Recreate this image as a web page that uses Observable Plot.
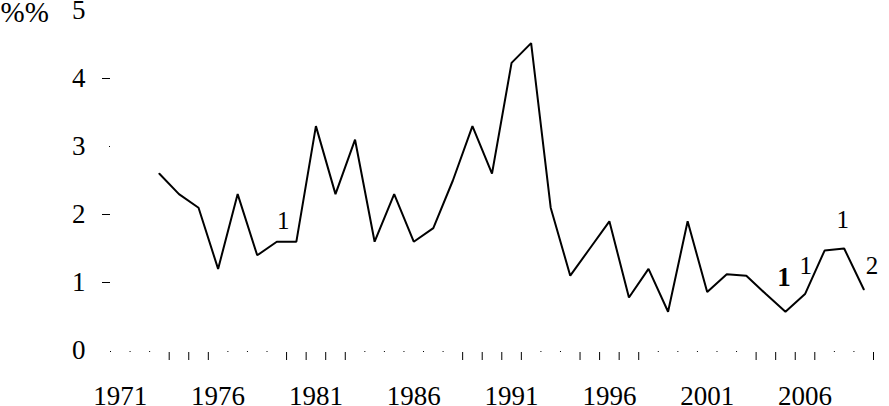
<!DOCTYPE html>
<html><head><meta charset="utf-8">
<script src="https://cdn.jsdelivr.net/npm/d3@7"></script>
<script src="https://cdn.jsdelivr.net/npm/@observablehq/plot@0.6"></script>
<style>body{margin:0;background:#fff}</style>
</head><body><div id="chart"></div>
<script>
const years = [1973,1974,1975,1976,1977,1978,1979,1980,1981,1982,1983,1984,1985,1986,1987,1988,1989,1990,1991,1992,1993,1994,1995,1996,1997,1998,1999,2000,2001,2002,2003,2004,2005,2006,2007,2008,2009];
const values = [2.6,2.3,2.1,1.2,2.3,1.4,1.6,1.6,3.3,2.3,3.1,1.6,2.3,1.6,1.8,2.5,3.3,2.6,4.23,4.52,2.1,1.1,1.5,1.9,0.78,1.2,0.57,1.9,0.86,1.12,1.1,0.83,0.57,0.83,1.47,1.5,0.9];

const xTickLabels = [1971,1976,1981,1986,1991,1996,2001,2006];
const xLongTicks = [1973.5,1974.5,1975.5,1979.5,1980.5,1981.5,1982.5,1988.5,1989.5,1990.5,1991.5,1994.5,1995.5,1996.5,1997.5,2003.5,2004.5,2005.5,2006.5,2009.5];
const xDotTicks = [1970.5,1971.5,1972.5,1976.5,1977.5,1978.5,1983.5,1984.5,1985.5,1986.5,1987.5,1992.5,1993.5,1998.5,1999.5,2000.5,2001.5,2002.5,2007.5,2008.5];
const yTickLabels = [0,1,2,3,4,5];
const yLongTicks = [1,2,4];
const yDotTicks = [3];
const unitLabel = "%%";

const noteYears = [1979.33, 2006.04, 2007.93, 2009.42];
const noteValues = [1.91, 1.24, 1.92, 1.24];
const noteTexts = ["1", "1", "1", "2"];
const boldNoteYear = [2004.92];
const boldNoteValue = [1.08];
const boldNoteText = ["1"];

const data = years.map((y, i) => ({year: y, value: values[i]}));
const notes = noteYears.map((y, i) => ({year: y, value: noteValues[i], text: noteTexts[i]}));
const boldNotes = boldNoteYear.map((y, i) => ({year: y, value: boldNoteValue[i], text: boldNoteText[i]}));

const chart = Plot.plot({
  width: 889,
  height: 406,
  marginLeft: 110,
  marginRight: 16,
  marginTop: 10,
  marginBottom: 56,
  style: {fontFamily: "'Liberation Serif', 'DejaVu Serif', serif", fontSize: "27px", color: "#000", background: "#fff"},
  x: {domain: [1970.5, 2009.5]},
  y: {domain: [0, 5]},
  marks: [
    Plot.axisY({ticks: yTickLabels, tickSize: 0, tickPadding: 25, fontSize: 27, label: null, tickFormat: d => String(d)}),
    Plot.axisY({ticks: yLongTicks, tickSize: 8, tickPadding: 0, tickFormat: () => "", label: null, strokeWidth: 1}),
    Plot.axisY({ticks: yDotTicks, tickSize: 1, tickPadding: 0, tickFormat: () => "", label: null}),
    Plot.axisX({ticks: xTickLabels, tickSize: 0, tickPadding: 35, fontSize: 27, label: null, tickFormat: d => String(d)}),
    Plot.axisX({ticks: xLongTicks, tickSize: 8, tickPadding: 0, tickFormat: () => "", label: null, dy: 2}),
    Plot.axisX({ticks: xDotTicks, tickSize: 1, tickPadding: 0, tickFormat: () => "", label: null, dy: 1}),
    Plot.line(data, {x: "year", y: "value", stroke: "#000", strokeWidth: 2, strokeLinejoin: "miter"}),
    Plot.text(notes, {x: "year", y: "value", text: "text", fontSize: 25, fill: "#000"}),
    Plot.text(boldNotes, {x: "year", y: "value", text: "text", fontSize: 27, fontWeight: "bold", fill: "#000"}),
    Plot.text([unitLabel], {frameAnchor: "top-left", dx: -110, dy: 2, textAnchor: "start", lineAnchor: "middle", fontSize: 29, fill: "#000"})
  ]
});
document.getElementById("chart").appendChild(chart);
</script>
</body></html>
